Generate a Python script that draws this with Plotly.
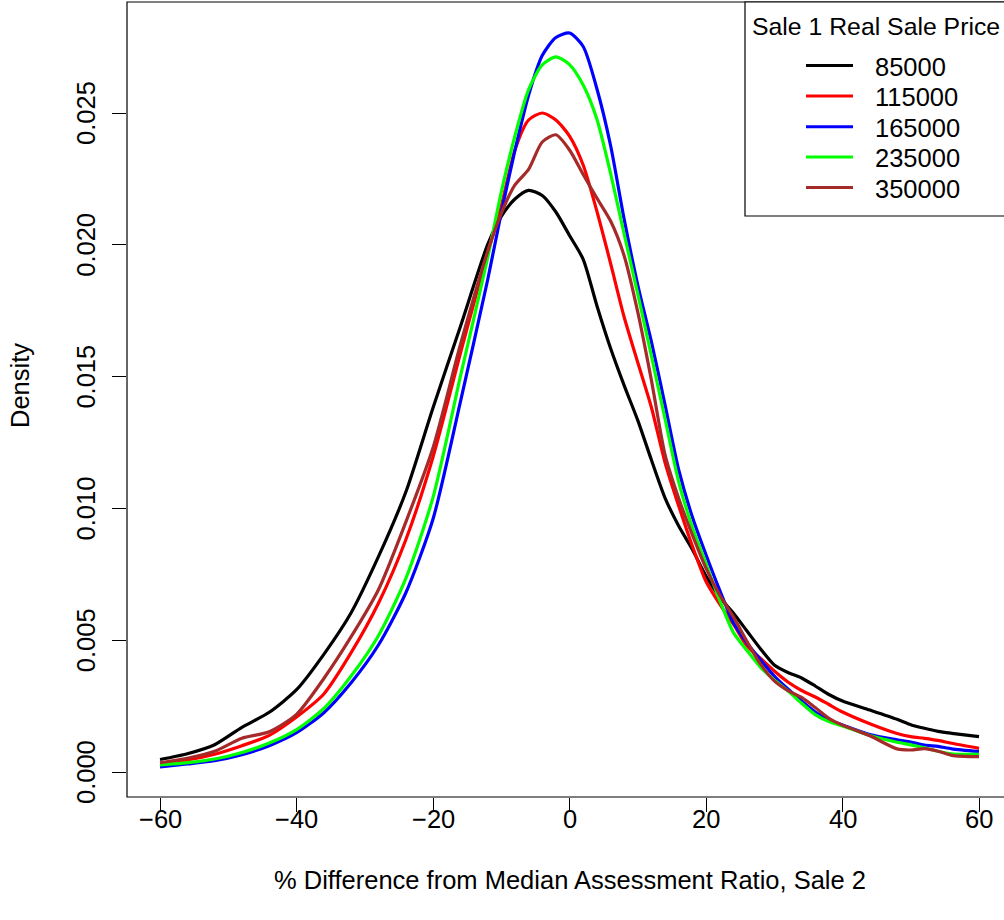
import plotly.graph_objects as go

# % difference from median assessment ratio (evaluation grid of the densities)
pct_diff = [-60, -56, -52, -48, -44, -40, -36, -32, -28, -24, -20, -16, -12, -10, -8, -6, -4, -2,
            0, 2, 4, 6, 8, 10, 12, 14, 16, 18, 20, 22, 24, 26, 28, 30, 32, 34, 36, 38, 40,
            44, 48, 50, 52, 54, 56, 60]

# kernel density estimates, one per Sale 1 real sale price group
dens_85000 = [0.000474, 0.000694, 0.001036, 0.001696, 0.002265, 0.003122, 0.004465, 0.006043,
              0.008168, 0.010611, 0.013820, 0.016893, 0.020004, 0.021074, 0.021737, 0.022067,
              0.021870, 0.021244, 0.020353, 0.019450, 0.017700, 0.016085, 0.014666, 0.013338,
              0.011836, 0.010394, 0.009332, 0.008441, 0.007436, 0.006639, 0.006032, 0.005349,
              0.004666, 0.004059, 0.003775, 0.003566, 0.003263, 0.002940, 0.002693, 0.002352,
              0.001999, 0.001794, 0.001658, 0.001544, 0.001468, 0.001339]
dens_115000 = [0.000330, 0.000455, 0.000675, 0.000998, 0.001392, 0.002086, 0.002959, 0.004526,
               0.006400, 0.008801, 0.011950, 0.015869, 0.019700, 0.021472, 0.023596, 0.024734,
               0.025000, 0.024734, 0.024127, 0.023027, 0.021282, 0.019310, 0.017261, 0.015535,
               0.013828, 0.011734, 0.010091, 0.008574, 0.007227, 0.006373, 0.005615, 0.004780,
               0.004306, 0.003832, 0.003414, 0.003092, 0.002845, 0.002561, 0.002276, 0.001832,
               0.001461, 0.001343, 0.001278, 0.001199, 0.001089, 0.000899]
dens_165000 = [0.000190, 0.000303, 0.000429, 0.000656, 0.000998, 0.001491, 0.002250, 0.003388,
               0.004818, 0.006791, 0.009598, 0.014036, 0.018665, 0.021218, 0.023577, 0.025671,
               0.027177, 0.027864, 0.028035, 0.027523, 0.025929, 0.023786, 0.020979, 0.018475,
               0.016320, 0.013923, 0.011457, 0.009674, 0.008240, 0.006897, 0.005671, 0.004894,
               0.004249, 0.003642, 0.003149, 0.002693, 0.002276, 0.001973, 0.001783, 0.001423,
               0.001222, 0.001138, 0.001024, 0.000971, 0.000880, 0.000778]
dens_235000 = [0.000266, 0.000353, 0.000493, 0.000740, 0.001100, 0.001612, 0.002409, 0.003642,
               0.005171, 0.007333, 0.010421, 0.014996, 0.019499, 0.022003, 0.024127, 0.025888,
               0.026825, 0.027128, 0.026836, 0.026062, 0.024772, 0.022724, 0.020410, 0.018134,
               0.015781, 0.013391, 0.011002, 0.009287, 0.007895, 0.006517, 0.005296, 0.004609,
               0.003972, 0.003490, 0.003077, 0.002610, 0.002174, 0.001912, 0.001745, 0.001388,
               0.001127, 0.001032, 0.000918, 0.000789, 0.000694, 0.000671]
dens_350000 = [0.000353, 0.000520, 0.000785, 0.001278, 0.001529, 0.002189, 0.003547, 0.005133,
               0.006916, 0.009473, 0.012303, 0.016199, 0.019738, 0.021195, 0.022269, 0.022864,
               0.023900, 0.024173, 0.023596, 0.022667, 0.021775, 0.020910, 0.019587, 0.017443,
               0.014856, 0.012026, 0.010372, 0.008991, 0.007724, 0.006715, 0.005895, 0.004954,
               0.004090, 0.003456, 0.003088, 0.002830, 0.002447, 0.002037, 0.001779, 0.001373,
               0.000876, 0.000835, 0.000888, 0.000789, 0.000634, 0.000580]

price_labels = ["85000", "115000", "165000", "235000", "350000"]
series = [dens_85000, dens_115000, dens_165000, dens_235000, dens_350000]
colors = ["#000000", "#FF0000", "#0000FF", "#00FF00", "#A52A2A"]

x_ticks = [-60, -40, -20, 0, 20, 40, 60]
y_ticks = [0.000, 0.005, 0.010, 0.015, 0.020, 0.025]

FONT = "Liberation Sans, Arial, Helvetica, sans-serif"
FS = 25.5
W, H = 1004, 920
L, R_EDGE, T, B = 127, 1004, 2, 797  # plot region in pixels


def px(xp):
    return (xp - L) / (R_EDGE - L)


def py(yp):
    return (B - yp) / (B - T)


text_font = dict(family=FONT, size=FS, color="#000000")

fig = go.Figure()
for name, ys, col in zip(price_labels, series, colors):
    fig.add_trace(go.Scatter(
        x=pct_diff, y=ys, mode="lines", name=name,
        line=dict(color=col, width=3.2, shape="spline", smoothing=0.7),
        showlegend=False, hoverinfo="skip",
    ))

axis_common = dict(
    showgrid=False, zeroline=False, showline=False, showticklabels=False,
    ticks="outside", ticklen=14, tickwidth=1, tickcolor="#000000",
)

fig.update_layout(
    width=W, height=H,
    margin=dict(l=L, r=W - R_EDGE, t=T, b=H - B),
    paper_bgcolor="white", plot_bgcolor="white",
    xaxis=dict(range=[-64.84, 63.66], tickvals=x_ticks, **axis_common),
    yaxis=dict(range=[-0.000948, 0.029211], tickvals=y_ticks, **axis_common),
)

# tick labels (R style: x labels below ticks, y labels parallel to the axis)
for v in x_ticks:
    label = ("\u2212" + str(-v)) if v < 0 else str(v)
    fig.add_annotation(xref="x", yref="paper", x=v, y=py(819), text=label,
                       showarrow=False, font=text_font, xanchor="center", yanchor="middle")
for v in y_ticks:
    fig.add_annotation(xref="paper", yref="y", x=px(86), y=v, text=f"{v:.3f}",
                       textangle=-90, showarrow=False, font=text_font,
                       xanchor="center", yanchor="middle")

# plot frame (right side runs past the page edge)
fig.add_shape(type="rect", xref="paper", yref="paper", x0=0, x1=1.02, y0=0, y1=1,
              line=dict(color="#000000", width=1.2), fillcolor="rgba(0,0,0,0)")

# axis titles
fig.add_annotation(xref="paper", yref="paper", x=px(569.5), y=py(880),
                   text="% Difference from Median Assessment Ratio, Sale 2", showarrow=False,
                   font=text_font, xanchor="center", yanchor="middle")
fig.add_annotation(xref="paper", yref="paper", x=px(20), y=py(386),
                   text="Density", textangle=-90, showarrow=False,
                   font=text_font, xanchor="center", yanchor="middle")

# legend box
fig.add_shape(type="rect", xref="paper", yref="paper", x0=px(745), x1=1.02, y0=py(216), y1=1,
              line=dict(color="#000000", width=1.2), fillcolor="white")
fig.add_annotation(xref="paper", yref="paper", x=px(750), y=py(27),
                   text="Sale 1 Real Sale Price", showarrow=False,
                   font=dict(family=FONT, size=24.8, color="#000000"),
                   xanchor="left", yanchor="middle")
row_y = [65.5, 96.0, 126.7, 157.0, 187.5]
for name, col, ry in zip(price_labels, colors, row_y):
    fig.add_shape(type="line", xref="paper", yref="paper", x0=px(806), x1=px(853),
                  y0=py(ry), y1=py(ry), line=dict(color=col, width=3))
    fig.add_annotation(xref="paper", yref="paper", x=px(873), y=py(ry + 1.5),
                       text=name, showarrow=False,
                       font=text_font, xanchor="left", yanchor="middle")

fig.write_html("out.html")
